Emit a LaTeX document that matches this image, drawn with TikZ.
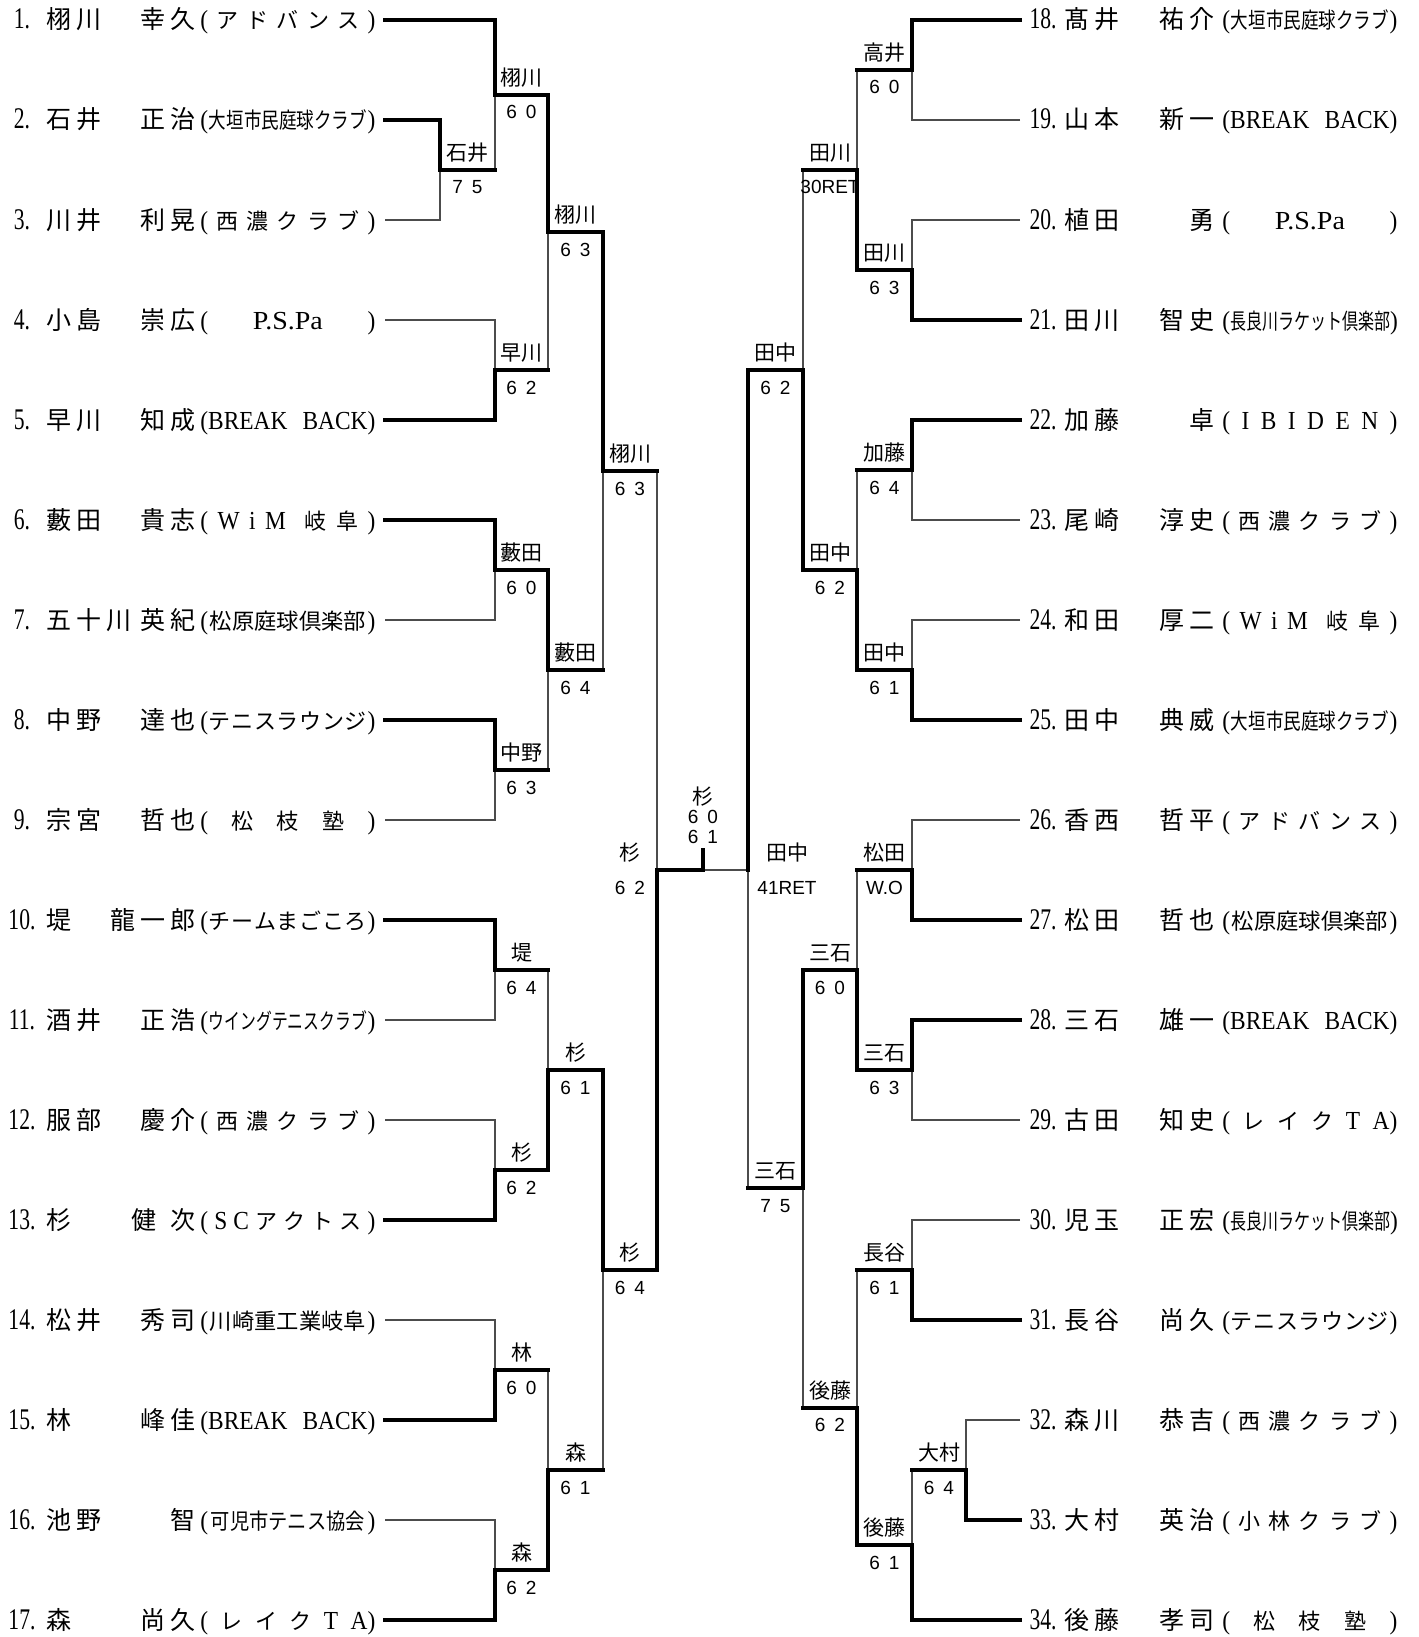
\documentclass[tikz,border=0pt]{standalone}
\usepackage{fontspec}
\usepackage{graphicx}
\setmainfont{Liberation Serif}
\newfontfamily\jp{Noto Sans CJK JP}
\newfontfamily\latf{Liberation Serif}
\newfontfamily\labf{Liberation Sans}
\newcommand\hf{\hfil}
\newcommand\lat[1]{\scalebox{0.9}[1]{\latf\fontsize{13pt}{13pt}\selectfont #1}}
\newcommand\lp{\lat{(}}
\newcommand\rp{\lat{)}}
\newcommand\sq[2]{\resizebox{#1}{\height}{#2}}
\newcommand\clubbox[1]{\makebox[87.5pt][s]{#1}}
\def\wgap{wgap}
\def\fw#1{\fwA#1\relax}
\def\fwA#1{\ifx\relax#1\else\ifx\wgap#1\kern4.5pt\else\makebox[15pt]{#1}\fi\expandafter\fwA\fi}
\newcommand\scr[2]{#1\kern4.5pt#2}
\newcommand\numtxt[1]{\scalebox{0.72}[1]{\latf\fontsize{15pt}{15pt}\selectfont #1}}
% clubs
\newcommand\clAdv{\lp\hf ア\hf ド\hf バ\hf ン\hf ス\hf\rp}
\newcommand\clOgaki{\lp\hf\sq{79pt}{大垣市民庭球クラブ}\hf\rp}
\newcommand\clSeino{\lp\hf 西\hf 濃\hf ク\hf ラ\hf ブ\hf\rp}
\newcommand\clPSPa{\lp\hf\sq{35pt}{\lat{P.S.Pa}}\hf\rp}
\newcommand\clBB{\lp\lat{BREAK}\hf\lat{BACK}\rp}
\newcommand\clWiM{\lp\hf\lat{W}\hf\lat{i}\hf\lat{M}\hf\hf 岐\hf 阜\hf\rp}
\newcommand\clMatsu{\lp\hf\sq{78pt}{松原庭球倶楽部}\hf\rp}
\newcommand\clTL{\lp\hf テ\hf ニ\hf ス\hf ラ\hf ウ\hf ン\hf ジ\hf\rp}
\newcommand\clShoshi{\lp\hf 松\hf 枝\hf 塾\hf\rp}
\newcommand\clMago{\lp\hf チ\hf ー\hf ム\hf ま\hf ご\hf こ\hf ろ\hf\rp}
\newcommand\clWing{\lp\hf\sq{79pt}{ウイングテニスクラブ}\hf\rp}
\newcommand\clSC{\lp\hf\lat{S}\hf\lat{C}\hf ア\hf ク\hf ト\hf ス\hf\rp}
\newcommand\clKawa{\lp\hf\sq{78pt}{川崎重工業岐阜}\hf\rp}
\newcommand\clKani{\lp\hf\sq{77pt}{可児市テニス協会}\hf\rp}
\newcommand\clLake{\lp\hf レ\hf イ\hf ク\hf\lat{T}\hf\lat{A}\rp}
\newcommand\clNaga{\lp\hf\sq{80pt}{長良川ラケット倶楽部}\hf\rp}
\newcommand\clIbi{\lp\hf\lat{I}\hf\lat{B}\hf\lat{I}\hf\lat{D}\hf\lat{E}\hf\lat{N}\hf\rp}
\newcommand\clKoba{\lp\hf 小\hf 林\hf ク\hf ラ\hf ブ\hf\rp}
\tikzset{
 thk/.style={line width=2pt, line cap=rect, black},
 thn/.style={line width=0.65pt, black!70},
 wname/.style={font=\jp\fontsize{10.5pt}{10.5pt}\selectfont, anchor=base, yshift=4.75pt, inner sep=0pt},
 wscore/.style={font=\labf\fontsize{9.5pt}{9.5pt}\selectfont, anchor=base, yshift=-12pt, inner sep=0pt},
 pnum/.style={anchor=base, inner sep=0pt},
 psur/.style={anchor=base west, inner sep=0pt, font=\jp\fontsize{12.5pt}{12.5pt}\selectfont},
 pgiv/.style={anchor=base east, inner sep=0pt, font=\jp\fontsize{12.5pt}{12.5pt}\selectfont},
 pclub/.style={anchor=base west, inner sep=0pt, font=\jp\fontsize{11pt}{11pt}\selectfont},
}
\newcommand\lrow[6]{%
 \node[pnum] (#1n) at (22,#2+9) {\numtxt{#3.}};
 \node[psur] (#1s) at (43.5,#2+9) {\fw{#4}};
 \node[pgiv] (#1g) at (198.5,#2+9) {\fw{#5}};
 \node[pclub] (#1c) at (200,#2+9) {\clubbox{#6}};}
\newcommand\rrow[6]{%
 \node[pnum] (#1n) at (1043,#2+9) {\numtxt{#3.}};
 \node[psur] (#1s) at (1061.5,#2+9) {\fw{#4}};
 \node[pgiv] (#1g) at (1217.5,#2+9) {\fw{#5}};
 \node[pclub] (#1c) at (1222,#2+9) {\clubbox{#6}};}
\newcommand\mlab[4]{\path (#2) node[wname] (#1n) {#3} node[wscore] (#1s) {#4};}
\begin{document}
\begin{tikzpicture}[x=0.5pt,y=-0.5pt]
\useasboundingbox (0,0) rectangle (1418,1637);
\fill[white] (0,0) rectangle (1418,1637);
% ---------- player rows
\lrow{p1}{20}{1}{栩川}{幸久}{\clAdv}
\lrow{p2}{120}{2}{石井}{正治}{\clOgaki}
\lrow{p3}{220}{3}{川井}{利晃}{\clSeino}
\lrow{p4}{320}{4}{小島}{崇広}{\clPSPa}
\lrow{p5}{420}{5}{早川}{知成}{\clBB}
\lrow{p6}{520}{6}{藪田}{貴志}{\clWiM}
\lrow{p7}{620}{7}{五十川}{英紀}{\clMatsu}
\lrow{p8}{720}{8}{中野}{達也}{\clTL}
\lrow{p9}{820}{9}{宗宮}{哲也}{\clShoshi}
\lrow{p10}{920}{10}{堤}{龍一郎}{\clMago}
\lrow{p11}{1020}{11}{酒井}{正浩}{\clWing}
\lrow{p12}{1120}{12}{服部}{慶介}{\clSeino}
\lrow{p13}{1220}{13}{杉}{健\wgap 次}{\clSC}
\lrow{p14}{1320}{14}{松井}{秀司}{\clKawa}
\lrow{p15}{1420}{15}{林}{峰佳}{\clBB}
\lrow{p16}{1520}{16}{池野}{智}{\clKani}
\lrow{p17}{1620}{17}{森}{尚久}{\clLake}
\rrow{p18}{20}{18}{髙井}{祐介}{\clOgaki}
\rrow{p19}{120}{19}{山本}{新一}{\clBB}
\rrow{p20}{220}{20}{植田}{勇}{\clPSPa}
\rrow{p21}{320}{21}{田川}{智史}{\clNaga}
\rrow{p22}{420}{22}{加藤}{卓}{\clIbi}
\rrow{p23}{520}{23}{尾崎}{淳史}{\clSeino}
\rrow{p24}{620}{24}{和田}{厚二}{\clWiM}
\rrow{p25}{720}{25}{田中}{典威}{\clOgaki}
\rrow{p26}{820}{26}{香西}{哲平}{\clAdv}
\rrow{p27}{920}{27}{松田}{哲也}{\clMatsu}
\rrow{p28}{1020}{28}{三石}{雄一}{\clBB}
\rrow{p29}{1120}{29}{古田}{知史}{\clLake}
\rrow{p30}{1220}{30}{児玉}{正宏}{\clNaga}
\rrow{p31}{1320}{31}{長谷}{尚久}{\clTL}
\rrow{p32}{1420}{32}{森川}{恭吉}{\clSeino}
\rrow{p33}{1520}{33}{大村}{英治}{\clKoba}
\rrow{p34}{1620}{34}{後藤}{孝司}{\clShoshi}
% ---------- coordinates
\foreach \i in {1,...,17} {\coordinate (L\i) at (385,{20+100*(\i-1)});}
\foreach \i in {18,...,34} {\coordinate (R\i) at (1020,{20+100*(\i-18)});}
\coordinate (mAj) at (440,170);  \coordinate (mAe) at (495,170);
\coordinate (mBj) at (495,95);   \coordinate (mBe) at (548,95);
\coordinate (mCj) at (495,370);  \coordinate (mCe) at (548,370);
\coordinate (mDj) at (495,570);  \coordinate (mDe) at (548,570);
\coordinate (mEj) at (495,770);  \coordinate (mEe) at (548,770);
\coordinate (mFj) at (495,970);  \coordinate (mFe) at (548,970);
\coordinate (mGj) at (495,1170); \coordinate (mGe) at (548,1170);
\coordinate (mHj) at (495,1370); \coordinate (mHe) at (548,1370);
\coordinate (mIj) at (495,1570); \coordinate (mIe) at (548,1570);
\coordinate (mJj) at (548,232.5);\coordinate (mJe) at (603,232.5);
\coordinate (mKj) at (548,670);  \coordinate (mKe) at (603,670);
\coordinate (mLj) at (548,1070); \coordinate (mLe) at (603,1070);
\coordinate (mMj) at (548,1470); \coordinate (mMe) at (603,1470);
\coordinate (mNj) at (603,471);  \coordinate (mNe) at (657,471);
\coordinate (mOj) at (603,1270); \coordinate (mOe) at (657,1270);
\coordinate (mPj) at (657,870);
\coordinate (F) at (703,870); \coordinate (Fs) at (703,850);
\coordinate (nAj) at (912,70);   \coordinate (nAe) at (857,70);
\coordinate (nBj) at (912,270);  \coordinate (nBe) at (857,270);
\coordinate (nCj) at (912,470);  \coordinate (nCe) at (857,470);
\coordinate (nDj) at (912,670);  \coordinate (nDe) at (857,670);
\coordinate (nEj) at (912,870);  \coordinate (nEe) at (857,870);
\coordinate (nFj) at (912,1070); \coordinate (nFe) at (857,1070);
\coordinate (nGj) at (912,1270); \coordinate (nGe) at (857,1270);
\coordinate (nHj) at (966,1470); \coordinate (nHe) at (912,1470);
\coordinate (nIj) at (912,1545); \coordinate (nIe) at (857,1545);
\coordinate (nJj) at (857,170);  \coordinate (nJe) at (803,170);
\coordinate (nKj) at (857,570);  \coordinate (nKe) at (803,570);
\coordinate (nLj) at (857,970);  \coordinate (nLe) at (803,970);
\coordinate (nMj) at (857,1407.5);\coordinate (nMe) at (803,1407.5);
\coordinate (nNj) at (803,370);  \coordinate (nNe) at (748,370);
\coordinate (nOj) at (803,1188); \coordinate (nOe) at (748,1188);
\coordinate (nPj) at (748,870);
% ---------- thin (losing) lines
\draw[thn] (L3) -| (mAj);  \draw[thn] (mAe) -| (mBj);
\draw[thn] (L4) -| (mCj);  \draw[thn] (L7) -| (mDj);
\draw[thn] (L9) -| (mEj);  \draw[thn] (L11) -| (mFj);
\draw[thn] (L12) -| (mGj); \draw[thn] (L14) -| (mHj);
\draw[thn] (L16) -| (mIj);
\draw[thn] (mCe) -| (mJj); \draw[thn] (mEe) -| (mKj);
\draw[thn] (mFe) -| (mLj); \draw[thn] (mHe) -| (mMj);
\draw[thn] (mKe) -| (mNj); \draw[thn] (mMe) -| (mOj);
\draw[thn] (mNe) -| (mPj);
\draw[thn] (F) -- (nPj);
\draw[thn] (R19) -| (nAj); \draw[thn] (R20) -| (nBj);
\draw[thn] (R23) -| (nCj); \draw[thn] (R24) -| (nDj);
\draw[thn] (R26) -| (nEj); \draw[thn] (R29) -| (nFj);
\draw[thn] (R30) -| (nGj); \draw[thn] (R32) -| (nHj);
\draw[thn] (nHe) -| (nIj);
\draw[thn] (nAe) -| (nJj); \draw[thn] (nCe) -| (nKj);
\draw[thn] (nEe) -| (nLj); \draw[thn] (nGe) -| (nMj);
\draw[thn] (nJe) -| (nNj); \draw[thn] (nMe) -| (nOj);
\draw[thn] (nOe) -| (nPj);
% ---------- thick (winning) lines
\draw[thk] (L1) -| (mBj);  \draw[thk] (L2) -| (mAj);
\draw[thk] (L5) -| (mCj);  \draw[thk] (L6) -| (mDj);
\draw[thk] (L8) -| (mEj);  \draw[thk] (L10) -| (mFj);
\draw[thk] (L13) -| (mGj); \draw[thk] (L15) -| (mHj);
\draw[thk] (L17) -| (mIj);
\draw[thk] (mBe) -| (mJj); \draw[thk] (mDe) -| (mKj);
\draw[thk] (mGe) -| (mLj); \draw[thk] (mIe) -| (mMj);
\draw[thk] (mJe) -| (mNj); \draw[thk] (mLe) -| (mOj);
\draw[thk] (mOe) -| (mPj);
\foreach \m in {mA,mB,mC,mD,mE,mF,mG,mH,mI,mJ,mK,mL,mM,mN,mO,nA,nB,nC,nD,nE,nF,nG,nH,nI,nJ,nK,nL,nM,nN,nO}
  {\draw[thk] (\m j) -- (\m e);}
\draw[thk] (mPj) -- (F);
\draw[thk] (Fs) -- (F);
\draw[thk] (R18) -| (nAj); \draw[thk] (R21) -| (nBj);
\draw[thk] (R22) -| (nCj); \draw[thk] (R25) -| (nDj);
\draw[thk] (R27) -| (nEj); \draw[thk] (R28) -| (nFj);
\draw[thk] (R31) -| (nGj); \draw[thk] (R33) -| (nHj);
\draw[thk] (R34) -| (nIj);
\draw[thk] (nBe) -| (nJj); \draw[thk] (nDe) -| (nKj);
\draw[thk] (nFe) -| (nLj); \draw[thk] (nIe) -| (nMj);
\draw[thk] (nKe) -| (nNj); \draw[thk] (nLe) -| (nOj);
\draw[thk] (nNe) -| (nPj);
% ---------- match labels
\mlab{mA}{467.5,170}{石井}{\scr75}
\mlab{mB}{521.5,95}{栩川}{\scr60}
\mlab{mC}{521.5,370}{早川}{\scr62}
\mlab{mD}{521.5,570}{藪田}{\scr60}
\mlab{mE}{521.5,770}{中野}{\scr63}
\mlab{mF}{521.5,970}{堤}{\scr64}
\mlab{mG}{521.5,1170}{杉}{\scr62}
\mlab{mH}{521.5,1370}{林}{\scr60}
\mlab{mI}{521.5,1570}{森}{\scr62}
\mlab{mJ}{575.5,232.5}{栩川}{\scr63}
\mlab{mK}{575.5,670}{藪田}{\scr64}
\mlab{mL}{575.5,1070}{杉}{\scr61}
\mlab{mM}{575.5,1470}{森}{\scr61}
\mlab{mN}{630,471}{栩川}{\scr63}
\mlab{mO}{630,1270}{杉}{\scr64}
\mlab{mP}{630,870}{杉}{\scr62}
\mlab{nA}{884.5,70}{高井}{\scr60}
\mlab{nB}{884.5,270}{田川}{\scr63}
\mlab{nC}{884.5,470}{加藤}{\scr64}
\mlab{nD}{884.5,670}{田中}{\scr61}
\mlab{nE}{884.5,870}{松田}{W.O}
\mlab{nF}{884.5,1070}{三石}{\scr63}
\mlab{nG}{884.5,1270}{長谷}{\scr61}
\mlab{nH}{939,1470}{大村}{\scr64}
\mlab{nI}{884.5,1545}{後藤}{\scr61}
\mlab{nJ}{830,170}{田川}{30RET}
\mlab{nK}{830,570}{田中}{\scr62}
\mlab{nL}{830,970}{三石}{\scr60}
\mlab{nM}{830,1407.5}{後藤}{\scr62}
\mlab{nN}{775.5,370}{田中}{\scr62}
\mlab{nO}{775.5,1188}{三石}{\scr75}
\mlab{nP}{787,870}{田中}{41RET}
% final
\node[font=\jp\fontsize{10.5pt}{10.5pt}\selectfont, anchor=base, inner sep=0pt] (fw) at (703,804) {杉};
\node[font=\labf\fontsize{9.5pt}{9.5pt}\selectfont, anchor=base, inner sep=0pt] (fs1) at (703,823) {\scr60};
\node[font=\labf\fontsize{9.5pt}{9.5pt}\selectfont, anchor=base, inner sep=0pt] (fs2) at (703,843) {\scr61};
\end{tikzpicture}
\end{document}
